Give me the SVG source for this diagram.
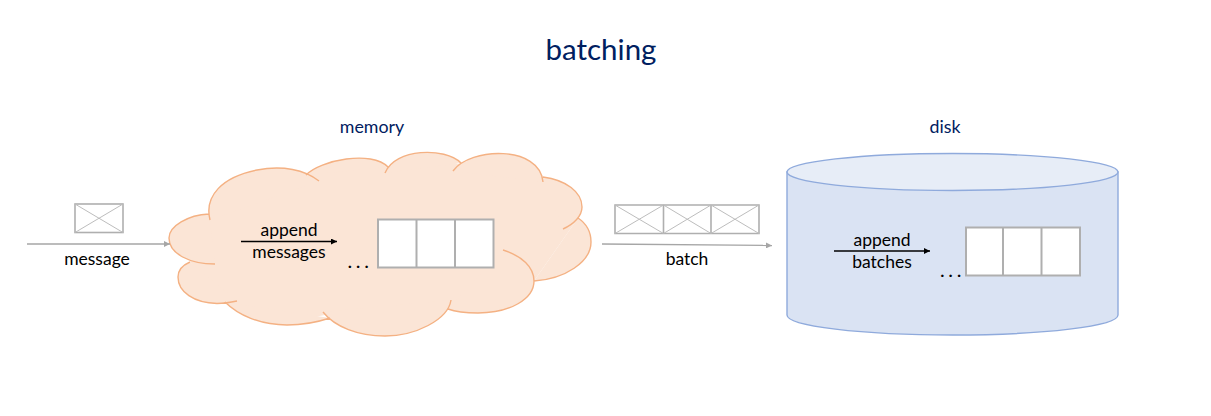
<svg xmlns="http://www.w3.org/2000/svg" width="1211" height="416" viewBox="0 0 1211 416">
<style>
text{font-family:"Lato","Liberation Sans",sans-serif;text-anchor:middle}
.t{font-size:29.5px;fill:#002060}
.h{font-size:17.8px;fill:#002060}
.l{font-size:17.5px;fill:#000}
.d{font-size:20px;fill:#000;letter-spacing:3.6px}
.box{fill:#fff;stroke:#afafaf;stroke-width:2}
.env{fill:none;stroke:#afafaf;stroke-width:1.6}
.thin{fill:none;stroke:#bdbdbd;stroke-width:1}
.ga{fill:none;stroke:#a6a6a6;stroke-width:1.3;marker-end:url(#gh)}
.ka{fill:none;stroke:#000;stroke-width:1.3;marker-end:url(#kh)}
</style>
<defs>
<marker id="gh" markerUnits="userSpaceOnUse" markerWidth="7" markerHeight="6" refX="6" refY="3" orient="auto"><path d="M0,0L6,3L0,6z" fill="#a6a6a6"/></marker>
<marker id="kh" markerUnits="userSpaceOnUse" markerWidth="7" markerHeight="6" refX="6" refY="3" orient="auto"><path d="M0,0L6,3L0,6z" fill="#000"/></marker>
</defs>
<text class="t" x="601" y="60">batching</text>
<g id="memory">
<text class="h" x="372" y="133">memory</text>
<path fill="#fbe5d6" d="M209,214L257,172L306,175L350,162L388,167L427,158L450,161L458,164L470,161L497,158L543,177L578,218L534,281L478,311L448,309L385,332L325,315L287,322L225,302L190,262z"/>
<path fill="#fbe5d6" stroke="#f4b183" stroke-width="1.4" d="M215,264C190,264 169,254 169,238C169,226 188,215 209,214M210,220C204,196 222,177 257,170C283,165 305,170 319,181M306,175C320,160 372,150 388,167M385,173C395,148 445,147 461,163M453,171C470,147 540,145 543,182M543,177C566,180 582,192 582,207C582,216 574,224 563,229M578,218C587,224 591,232 591,242C591,262 565,279 534,281M503,250C522,256 534,267 534,281C534,299 510,313 478,313C466,313 456,312 448,309M451,300C448,320 415,336 385,336C358,336 335,327 323,312M330,318C315,323 300,325 287,325C260,325 238,315 225,302M237,301C228,303 224,303.500 217,303.500C194,303 178,292 178,277C178,270 183,265 190,262"/>
<rect class="box" x="378" y="219.500" width="115.500" height="48"/>
<path class="box" d="M416.500,219.500V267.500M455,219.500V267.500"/>
<text class="l" x="289" y="236">append</text>
<text class="l" x="289" y="258">messages</text>
<text class="d" x="360" y="267.500">...</text>
</g>
<g id="disk">
<text class="h" x="945" y="133">disk</text>
<path fill="#dae3f3" stroke="#8faadc" stroke-width="1.4" d="M787,172V315C787,326 861,335 952.500,335C1044,335 1118,326 1118,315V172z"/>
<ellipse cx="952.500" cy="172" rx="165.500" ry="18.500" fill="#e7edf7" stroke="#8faadc" stroke-width="1.4"/>
<rect class="box" x="966" y="227.500" width="114" height="48"/>
<path class="box" d="M1003,227.500V275.500M1041.500,227.500V275.500"/>
<text class="l" x="882" y="246">append</text>
<text class="l" x="882" y="268">batches</text>
<text class="d" x="952.500" y="277">...</text>
</g>
<g id="message">
<rect class="env" x="75" y="204" width="48" height="28.500"/>
<path class="thin" d="M75,204L123,232.500M123,204L75,232.500"/>
<text class="l" x="97" y="265">message</text>
</g>
<g id="batch">
<path class="env" d="M615,205H759V233.500H615zM663.500,205V233.500M711,205V233.500"/>
<path class="thin" d="M615,205L663.500,233.500M663.500,205L615,233.500M663.500,205L711,233.500M711,205L663.500,233.500M711,205L759,233.500M759,205L711,233.500"/>
<text class="l" x="687" y="265">batch</text>
</g>
<g id="connectors">
<path class="ga" d="M27,244H170"/>
<path class="ga" d="M602,244L772,245.500"/>
<path class="ka" d="M241,241.500H337"/>
<path class="ka" d="M834,251H930"/>
</g>
</svg>
